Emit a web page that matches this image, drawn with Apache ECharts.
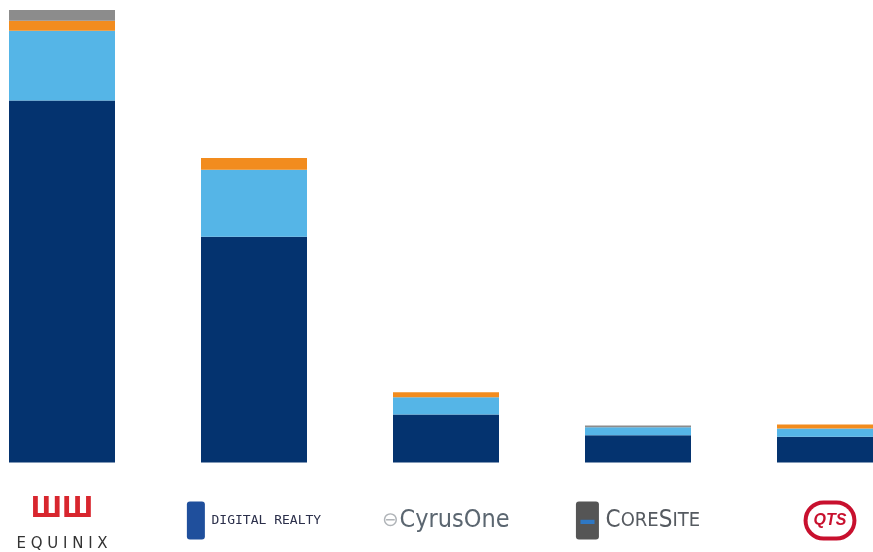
<!DOCTYPE html>
<html>
<head>
<meta charset="utf-8">
<script src="https://cdn.jsdelivr.net/npm/echarts@6/dist/echarts.min.js"></script>
<style>
  html, body { margin: 0; padding: 0; background: #fff; }
  #chart { width: 873px; height: 552px; }
</style>
</head>
<body>
<div id="chart"></div>
<script>
// companies, left to right
var companies = ['Equinix', 'Digital Realty', 'CyrusOne', 'CoreSite', 'QTS'];

// stacked segments, bottom to top (share of the leader's total, %)
var segDark   = [80.0, 49.9, 10.6, 6.0, 5.7];
var segLight  = [15.4, 14.8, 3.8, 1.8, 1.8];
var segOrange = [2.2, 2.6, 1.1, 0, 0.9];
var segGray   = [2.4, 0, 0, 0.4, 0];

var colors = {
    dark: '#04336f',
    light: '#55b5e7',
    orange: '#f28c1e',
    gray: '#8c8c8c'
};

var chart = echarts.init(document.getElementById('chart'), null, { renderer: 'canvas' });

function labelFor(value, idx) {
    switch (idx) {
        case 0: return '{eqIcon|ШШ}\n{eqText|E Q U I N I X}';
        case 1: return '{drIcon|}  {drText|DIGITAL REALTY}';
        case 2: return '{coIcon|⊖}{coText|CyrusOne}';
        case 3: return '{csIcon|▬}  {csBig|C}{csSmall|ORE}{csBig|S}{csSmall|ITE}';
        case 4: return '{pad|}{qts|QTS}';
    }
    return value;
}

function makeSeries(name, data, color) {
    return {
        name: name,
        type: 'bar',
        stack: 'total',
        barWidth: 106,
        data: data,
        itemStyle: { color: color },
        emphasis: { disabled: true }
    };
}

var narrow = "'DejaVu Sans Condensed', 'Liberation Sans', sans-serif";

var option = {
    animation: false,
    grid: {
        left: 62,
        right: 43,
        top: 10,
        bottom: 89
    },
    xAxis: {
        type: 'category',
        data: companies,
        boundaryGap: false,
        axisLine: { show: false },
        axisTick: { show: false },
        axisLabel: {
            margin: 22,
            interval: 0,
            formatter: labelFor,
            rich: {
                eqIcon: { color: '#d8262e', fontSize: 28, fontWeight: 'bold', lineHeight: 50, fontFamily: 'DejaVu Sans Condensed' },
                eqText: { color: '#333', fontSize: 15, lineHeight: 20, fontFamily: 'DejaVu Sans' },
                drIcon: { backgroundColor: '#1f4f9c', width: 18, height: 38, borderRadius: 3 },
                drText: { color: '#2b2f4a', fontSize: 13, fontFamily: 'DejaVu Sans Mono', lineHeight: 72 },
                coIcon: { color: '#b0b4b8', fontSize: 20, lineHeight: 72 },
                coText: { color: '#5b6670', fontSize: 25, fontFamily: narrow, lineHeight: 72 },
                csIcon: { color: '#2f78c4', backgroundColor: '#555', fontSize: 14, width: 23, height: 38, align: 'center', borderRadius: 3 },
                csBig: { color: '#555a60', fontSize: 24, fontFamily: narrow, lineHeight: 72 },
                csSmall: { color: '#555a60', fontSize: 20, fontFamily: narrow, lineHeight: 72 },
                pad: { lineHeight: 72, width: 0 },
                qts: {
                    color: '#c8102e', fontSize: 16, fontStyle: 'italic', fontWeight: 'bold',
                    borderColor: '#c8102e', borderWidth: 4, borderRadius: 16,
                    padding: [8, 6, 8, 6], backgroundColor: '#fff'
                }
            }
        }
    },
    yAxis: {
        type: 'value',
        min: 0,
        max: 100,
        show: false,
        splitLine: { show: false }
    },
    series: [
        makeSeries('Dark', segDark, colors.dark),
        makeSeries('Light', segLight, colors.light),
        makeSeries('Orange', segOrange, colors.orange),
        makeSeries('Gray', segGray, colors.gray)
    ]
};

chart.setOption(option);
</script>
</body>
</html>
